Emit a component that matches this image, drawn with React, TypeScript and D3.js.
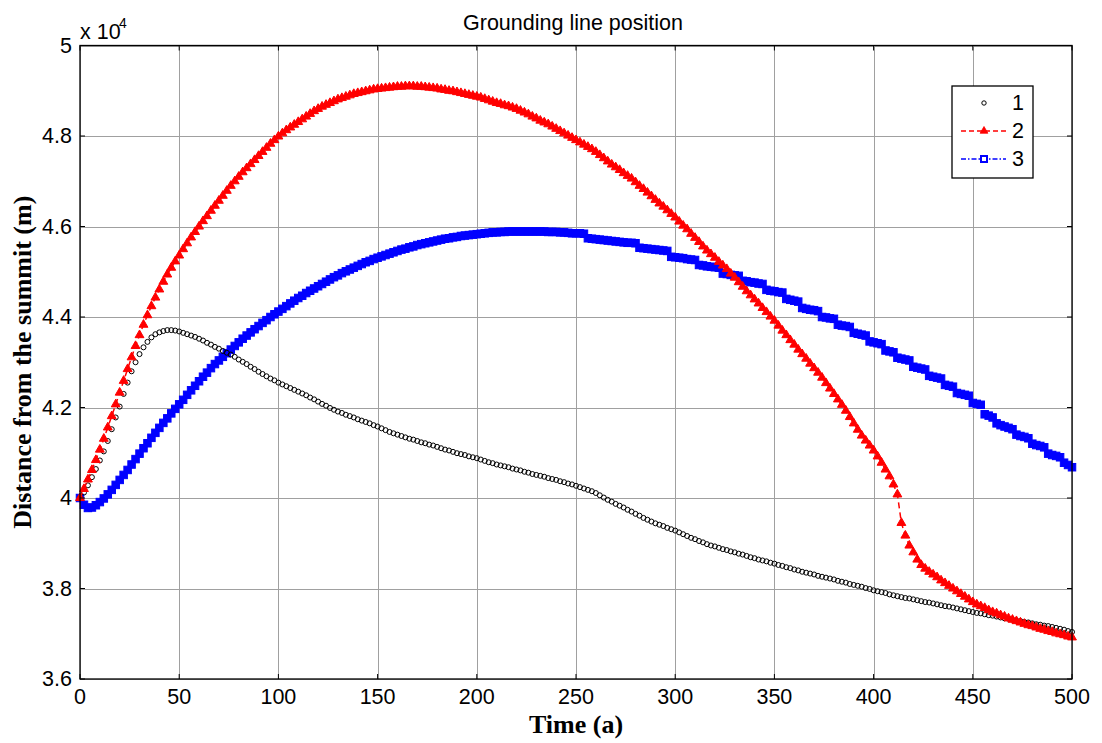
import React from "react";
import * as d3 from "d3";

// Time axis (years), sampled every 2 a
const years: number[] = d3.range(0, 501, 2);

// Grounding line position (x 10^4 m) for each run
const series1: number[] = [
  4.000,4.012,4.028,4.046,4.064,4.083,4.103,4.126,4.152,4.178,
  4.202,4.230,4.255,4.280,4.300,4.318,4.333,4.345,4.355,4.362,
  4.366,4.369,4.371,4.371,4.370,4.368,4.365,4.362,4.359,4.356,
  4.352,4.348,4.343,4.339,4.334,4.330,4.325,4.321,4.317,4.312,
  4.306,4.301,4.296,4.290,4.285,4.279,4.274,4.269,4.264,4.260,
  4.255,4.251,4.247,4.243,4.239,4.235,4.231,4.227,4.222,4.218,
  4.213,4.208,4.204,4.199,4.195,4.191,4.188,4.184,4.181,4.178,
  4.174,4.171,4.168,4.165,4.161,4.158,4.154,4.150,4.146,4.143,
  4.140,4.137,4.134,4.131,4.129,4.126,4.123,4.121,4.118,4.116,
  4.113,4.110,4.107,4.105,4.102,4.099,4.097,4.095,4.092,4.090,
  4.088,4.085,4.082,4.079,4.077,4.074,4.072,4.070,4.068,4.065,
  4.063,4.061,4.058,4.056,4.053,4.051,4.049,4.047,4.044,4.042,
  4.040,4.037,4.035,4.032,4.030,4.027,4.024,4.021,4.018,4.015,
  4.011,4.006,4.001,3.996,3.992,3.987,3.983,3.979,3.974,3.970,
  3.965,3.961,3.956,3.952,3.948,3.944,3.941,3.938,3.934,3.931,
  3.928,3.924,3.920,3.916,3.912,3.909,3.905,3.902,3.898,3.895,
  3.893,3.890,3.887,3.885,3.882,3.880,3.877,3.875,3.872,3.869,
  3.867,3.864,3.862,3.860,3.857,3.855,3.852,3.850,3.847,3.845,
  3.842,3.840,3.837,3.835,3.833,3.831,3.828,3.826,3.824,3.822,
  3.820,3.817,3.815,3.813,3.810,3.808,3.806,3.804,3.801,3.799,
  3.796,3.794,3.792,3.790,3.787,3.785,3.783,3.781,3.779,3.778,
  3.776,3.774,3.772,3.770,3.769,3.767,3.765,3.763,3.761,3.760,
  3.758,3.756,3.754,3.752,3.750,3.748,3.746,3.745,3.743,3.741,
  3.740,3.738,3.736,3.734,3.733,3.731,3.729,3.728,3.726,3.725,
  3.723,3.721,3.720,3.718,3.717,3.715,3.713,3.711,3.709,3.706,
  3.704,
];

const series2: number[] = [
  4.000,4.020,4.041,4.062,4.084,4.107,4.131,4.156,4.181,4.207,
  4.233,4.259,4.285,4.311,4.336,4.360,4.383,4.404,4.424,4.443,
  4.461,4.478,4.494,4.509,4.523,4.536,4.550,4.563,4.576,4.588,
  4.600,4.612,4.623,4.635,4.646,4.657,4.668,4.679,4.690,4.700,
  4.710,4.720,4.729,4.738,4.747,4.756,4.765,4.774,4.783,4.791,
  4.799,4.806,4.813,4.819,4.825,4.831,4.837,4.843,4.849,4.855,
  4.860,4.865,4.869,4.873,4.877,4.881,4.884,4.887,4.890,4.893,
  4.895,4.897,4.899,4.901,4.903,4.904,4.905,4.906,4.907,4.908,
  4.909,4.909,4.910,4.910,4.910,4.909,4.909,4.908,4.907,4.906,
  4.905,4.903,4.902,4.900,4.899,4.897,4.895,4.893,4.891,4.889,
  4.887,4.885,4.882,4.879,4.876,4.873,4.871,4.868,4.866,4.863,
  4.860,4.856,4.852,4.848,4.843,4.839,4.834,4.830,4.826,4.821,
  4.816,4.811,4.806,4.801,4.796,4.791,4.786,4.781,4.776,4.771,
  4.765,4.758,4.751,4.744,4.737,4.731,4.725,4.718,4.712,4.706,
  4.698,4.690,4.683,4.675,4.667,4.659,4.651,4.644,4.636,4.628,
  4.620,4.611,4.602,4.594,4.584,4.575,4.566,4.556,4.547,4.539,
  4.531,4.522,4.514,4.506,4.496,4.487,4.477,4.467,4.457,4.448,
  4.439,4.430,4.420,4.411,4.401,4.392,4.381,4.370,4.360,4.349,
  4.339,4.328,4.318,4.308,4.297,4.287,4.277,4.266,4.254,4.242,
  4.230,4.218,4.206,4.193,4.179,4.165,4.151,4.138,4.127,4.116,
  4.105,4.092,4.078,4.063,4.048,4.030,4.008,3.945,3.917,3.895,
  3.880,3.864,3.852,3.844,3.837,3.831,3.825,3.818,3.812,3.806,
  3.800,3.794,3.788,3.782,3.776,3.770,3.765,3.761,3.757,3.752,
  3.748,3.745,3.741,3.738,3.734,3.731,3.728,3.725,3.722,3.719,
  3.717,3.714,3.711,3.709,3.706,3.704,3.701,3.699,3.697,3.694,
  3.692,
];

const series3: number[] = [
  4.000,3.985,3.978,3.979,3.984,3.991,3.999,4.008,4.018,4.029,
  4.040,4.051,4.062,4.074,4.086,4.098,4.110,4.121,4.133,4.144,
  4.155,4.166,4.176,4.187,4.197,4.207,4.217,4.228,4.238,4.248,
  4.258,4.268,4.277,4.287,4.296,4.304,4.312,4.320,4.328,4.336,
  4.344,4.352,4.359,4.366,4.373,4.380,4.387,4.393,4.400,4.406,
  4.412,4.418,4.424,4.430,4.436,4.442,4.447,4.453,4.458,4.463,
  4.468,4.473,4.478,4.483,4.488,4.492,4.497,4.501,4.505,4.509,
  4.513,4.517,4.521,4.524,4.528,4.531,4.534,4.537,4.540,4.543,
  4.546,4.549,4.551,4.554,4.556,4.559,4.561,4.563,4.565,4.567,
  4.569,4.571,4.573,4.574,4.576,4.577,4.579,4.580,4.581,4.582,
  4.583,4.584,4.585,4.586,4.587,4.587,4.588,4.588,4.589,4.589,
  4.589,4.589,4.589,4.589,4.589,4.589,4.589,4.589,4.588,4.588,
  4.588,4.587,4.587,4.586,4.585,4.585,4.585,4.584,4.574,4.573,
  4.572,4.571,4.570,4.569,4.568,4.567,4.566,4.565,4.564,4.564,
  4.563,4.553,4.552,4.551,4.550,4.549,4.548,4.547,4.546,4.533,
  4.532,4.531,4.530,4.528,4.527,4.526,4.515,4.514,4.512,4.511,
  4.510,4.509,4.496,4.495,4.493,4.492,4.491,4.480,4.479,4.477,
  4.476,4.474,4.473,4.460,4.458,4.457,4.455,4.454,4.440,4.438,
  4.436,4.434,4.420,4.418,4.416,4.415,4.413,4.400,4.399,4.397,
  4.396,4.383,4.381,4.380,4.378,4.365,4.363,4.361,4.359,4.346,
  4.344,4.342,4.340,4.326,4.324,4.322,4.310,4.308,4.306,4.304,
  4.290,4.288,4.286,4.284,4.270,4.268,4.266,4.264,4.250,4.248,
  4.246,4.232,4.230,4.228,4.226,4.210,4.208,4.206,4.185,4.182,
  4.178,4.165,4.161,4.158,4.155,4.152,4.140,4.137,4.135,4.132,
  4.120,4.117,4.115,4.112,4.098,4.095,4.093,4.090,4.078,4.073,
  4.068,
];

const xTicks: number[] = [0, 50, 100, 150, 200, 250, 300, 350, 400, 450, 500];
const yTicks: number[] = [3.6, 3.8, 4.0, 4.2, 4.4, 4.6, 4.8, 5.0];
const yTickLabels: string[] = ["3.6", "3.8", "4", "4.2", "4.4", "4.6", "4.8", "5"];
const legendLabels: string[] = ["1", "2", "3"];

const W = 1102;
const H = 743;
const L = 80;
const R = 1072;
const T = 45.5;
const B = 679;

const SANS = "'Liberation Sans', Arial, Helvetica, sans-serif";
const SERIF = "'Liberation Serif', 'Times New Roman', Times, serif";

export default function App() {
  const x = d3.scaleLinear().domain([0, 500]).range([L, R]);
  const y = d3.scaleLinear().domain([3.6, 5.0]).range([B, T]);

  const line = d3
    .line<number>()
    .x((_, i) => x(years[i]))
    .y((d) => y(d));

  const tri = d3.symbol().type(d3.symbolTriangle).size(34)() as string;
  const triLeg = d3.symbol().type(d3.symbolTriangle).size(26)() as string;
  const sq = 7.5;

  const tickLen = 5;
  const legX = 952, legY = 86, legW = 81, legH = 92;
  const legRows = [103, 131, 159];

  return (
    <svg
      width={W}
      height={H}
      viewBox={`0 0 ${W} ${H}`}
      style={{ position: "absolute", left: 0, top: 0, background: "#fff" }}
    >
      <rect x={0} y={0} width={W} height={H} fill="#fff" />
      {/* grid */}
      <g stroke="#a0a0a0" strokeWidth={1}>
        {xTicks.map((t) => (
          <line key={"gx" + t} x1={Math.round(x(t)) + 0.5} x2={Math.round(x(t)) + 0.5} y1={T} y2={B} />
        ))}
        {yTicks.map((t) => (
          <line key={"gy" + t} x1={L} x2={R} y1={Math.round(y(t)) + 0.5} y2={Math.round(y(t)) + 0.5} />
        ))}
      </g>

      {/* series 3: blue dash-dot with squares */}
      <path d={line(series3) || ""} fill="none" stroke="#0000ff" strokeWidth={1.5} strokeDasharray="8,3,2,3" />
      <g fill="#0000ff" stroke="#0000ff" strokeWidth={1}>
        {series3.map((v, i) => (
          <rect key={"s3" + i} x={x(years[i]) - sq / 2} y={y(v) - sq / 2} width={sq} height={sq} />
        ))}
      </g>

      {/* series 1: black circles */}
      <g fill="none" stroke="#000" strokeWidth={1}>
        {series1.map((v, i) => (
          <circle key={"s1" + i} cx={x(years[i])} cy={y(v)} r={2.5} />
        ))}
      </g>

      {/* series 2: red dashed with triangles */}
      <path d={line(series2) || ""} fill="none" stroke="#ff0000" strokeWidth={1.5} strokeDasharray="6,4" />
      <g fill="#ff0000" stroke="#ff0000" strokeWidth={1}>
        {series2.map((v, i) => (
          <path key={"s2" + i} d={tri} transform={`translate(${x(years[i])},${y(v)})`} />
        ))}
      </g>

      {/* axes box */}
      <rect x={L} y={T} width={R - L} height={B - T} fill="none" stroke="#000" strokeWidth={1.3} />
      <g stroke="#000" strokeWidth={1}>
        {xTicks.map((t) => (
          <g key={"tx" + t}>
            <line x1={x(t)} x2={x(t)} y1={B} y2={B - tickLen} />
            <line x1={x(t)} x2={x(t)} y1={T} y2={T + tickLen} />
          </g>
        ))}
        {yTicks.map((t) => (
          <g key={"ty" + t}>
            <line x1={L} x2={L + tickLen} y1={y(t)} y2={y(t)} />
            <line x1={R} x2={R - tickLen} y1={y(t)} y2={y(t)} />
          </g>
        ))}
      </g>

      {/* tick labels */}
      <g fontFamily={SANS} fontSize={21.5} fill="#000">
        {xTicks.map((t) => (
          <text key={"lx" + t} x={x(t)} y={704} textAnchor="middle">
            {String(t)}
          </text>
        ))}
        {yTicks.map((t, i) => (
          <text key={"ly" + t} x={72} y={y(t)} textAnchor="end" dominantBaseline="central">
            {yTickLabels[i]}
          </text>
        ))}
        <text x={80} y={39}>x 10</text>
        <text x={119} y={28} fontSize={14}>4</text>
      </g>

      {/* title */}
      <text x={(L + R) / 2 - 3} y={30} textAnchor="middle" fontFamily={SANS} fontSize={21.5} fill="#000">
        Grounding line position
      </text>

      {/* axis labels */}
      <text x={(L + R) / 2} y={733} textAnchor="middle" fontFamily={SERIF} fontWeight="bold" fontSize={26} fill="#000">
        Time (a)
      </text>
      <text
        transform={`translate(31,${(T + B) / 2}) rotate(-90)`}
        textAnchor="middle"
        fontFamily={SERIF}
        fontWeight="bold"
        fontSize={26}
        fill="#000"
      >
        Distance from the summit (m)
      </text>

      {/* legend */}
      <rect x={legX} y={legY} width={legW} height={legH} fill="#fff" stroke="#000" strokeWidth={1.3} />
      <circle cx={984} cy={legRows[0]} r={2.2} fill="none" stroke="#000" strokeWidth={1} />
      <line x1={961} x2={1006} y1={legRows[1]} y2={legRows[1]} stroke="#ff0000" strokeWidth={1.5} strokeDasharray="5,3" />
      <path d={triLeg} transform={`translate(984,${legRows[1]})`} fill="#ff0000" stroke="#ff0000" strokeWidth={0.8} />
      <line x1={961} x2={1006} y1={legRows[2]} y2={legRows[2]} stroke="#0000ff" strokeWidth={1.5} strokeDasharray="5,2,1.5,2" />
      <rect x={984 - 3} y={legRows[2] - 3} width={6} height={6} fill="#fff" stroke="#0000ff" strokeWidth={2} />
      <g fontFamily={SANS} fontSize={21.5} fill="#000">
        {legendLabels.map((l, i) => (
          <text key={"lg" + l} x={1012} y={legRows[i]} dominantBaseline="central">
            {l}
          </text>
        ))}
      </g>
    </svg>
  );
}
